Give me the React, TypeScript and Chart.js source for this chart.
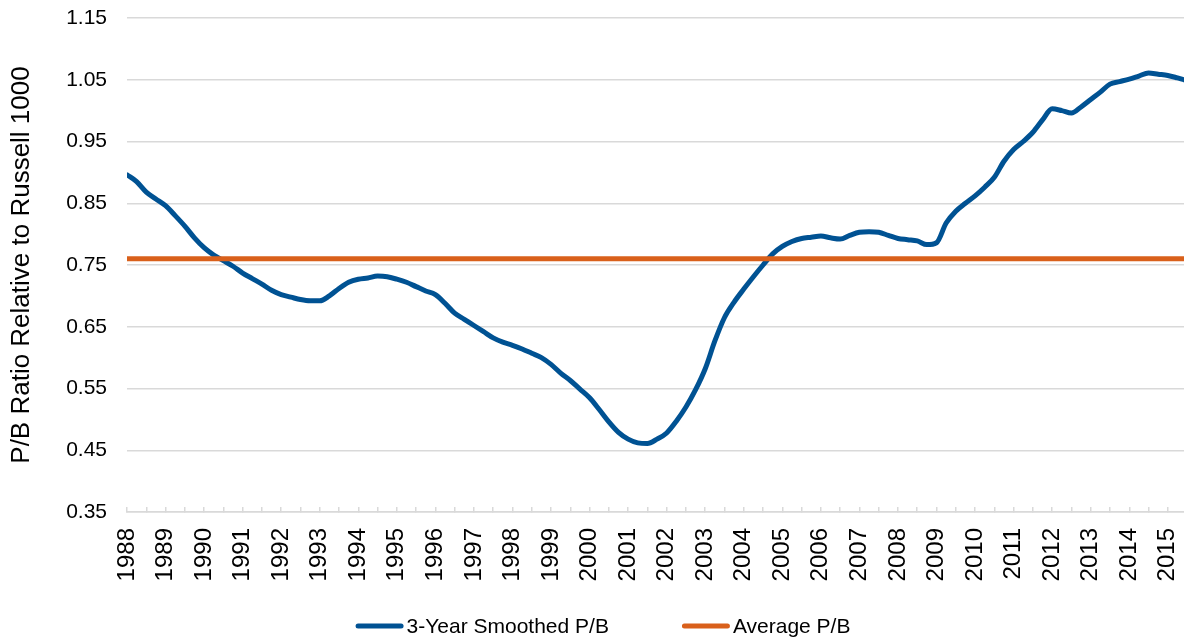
import React, { useEffect, useRef } from "react";
import { Chart, registerables } from "chart.js";

Chart.register(...registerables);

const FONT = '"Liberation Sans", Arial, Helvetica, sans-serif';

const START_YEAR = 1988;
const END_YEAR = 2015.42;

const yearLabels = [
  "1988", "1989", "1990", "1991", "1992", "1993", "1994", "1995", "1996", "1997",
  "1998", "1999", "2000", "2001", "2002", "2003", "2004", "2005", "2006", "2007",
  "2008", "2009", "2010", "2011", "2012", "2013", "2014", "2015",
];

// 3-year smoothed P/B relative to Russell 1000, quarterly readings
const pbValues = [
  0.896, 0.885, 0.868, 0.857, // 1988
  0.846, 0.830, 0.813, 0.794, // 1989
  0.778, 0.766, 0.757, 0.748, // 1990
  0.737, 0.728, 0.719, 0.709, // 1991
  0.702, 0.698, 0.694, 0.692, // 1992
  0.692, 0.700, 0.712, 0.722, // 1993
  0.727, 0.729, 0.732, 0.731, // 1994
  0.727, 0.722, 0.715, 0.708, // 1995
  0.702, 0.688, 0.672, 0.662, // 1996
  0.652, 0.642, 0.632, 0.625, // 1997
  0.620, 0.614, 0.607, 0.600, // 1998
  0.589, 0.575, 0.563, 0.549, // 1999
  0.535, 0.516, 0.496, 0.479, // 2000
  0.468, 0.462, 0.461, 0.468, // 2001
  0.478, 0.497, 0.520, 0.548, // 2002
  0.582, 0.627, 0.665, 0.690, // 2003
  0.711, 0.731, 0.750, 0.768, // 2004
  0.780, 0.788, 0.793, 0.795, // 2005
  0.797, 0.794, 0.792, 0.798, // 2006
  0.803, 0.804, 0.803, 0.798, // 2007
  0.793, 0.791, 0.789, 0.783, // 2008
  0.786, 0.818, 0.837, 0.850, // 2009
  0.862, 0.876, 0.892, 0.918, // 2010
  0.937, 0.950, 0.965, 0.985, // 2011
  1.003, 1.000, 0.996, 1.006, // 2012
  1.018, 1.030, 1.043, 1.047, // 2013
  1.051, 1.056, 1.061, 1.059, // 2014
  1.057, 1.053, 1.050,        // 2015
];
const pbDates = pbValues.map((_, i) => Math.min(START_YEAR + i * 0.25, END_YEAR));

const averagePB = [0.76, 0.76];
const averageDates = [START_YEAR, END_YEAR];

const Y_MIN = 0.35;
const Y_MAX = 1.15;
const Y_STEP = 0.1;

const seriesNames = ["3-Year Smoothed P/B", "Average P/B"];
const seriesColors = ["#005293", "#D9601B"];

const bottomLegend = {
  id: "bottomLegend",
  afterDraw(chart: any) {
    const ctx = chart.ctx as CanvasRenderingContext2D;
    const items = chart.data.datasets.map((ds: any) => ({ text: ds.label, color: ds.borderColor }));
    ctx.save();
    ctx.font = `21px ${FONT}`;
    const sample = 48;
    const gap = 3;
    const between = 73;
    const widths = items.map((it: any) => sample + gap + ctx.measureText(it.text).width);
    const total = widths.reduce((a: number, b: number) => a + b, 0) + between * (items.length - 1);
    let x = chart.width / 2 + 11 - total / 2;
    const y = chart.height - 13;
    items.forEach((it: any, i: number) => {
      ctx.strokeStyle = it.color;
      ctx.lineWidth = 5;
      ctx.lineCap = "round";
      ctx.beginPath();
      ctx.moveTo(x + 2.5, y);
      ctx.lineTo(x + sample - 2.5, y);
      ctx.stroke();
      ctx.fillStyle = "#000";
      ctx.textAlign = "left";
      ctx.textBaseline = "middle";
      ctx.fillText(it.text, x + sample + gap, y + 1);
      x += widths[i] + between;
    });
    ctx.restore();
  },
};

export default function App() {
  const canvasRef = useRef<HTMLCanvasElement | null>(null);

  useEffect(() => {
    if (!canvasRef.current) return;
    const chart = new Chart(canvasRef.current, {
      type: "line",
      data: {
        datasets: [
          {
            label: seriesNames[0],
            data: pbDates.map((d, i) => ({ x: d, y: pbValues[i] })),
            borderColor: seriesColors[0],
            backgroundColor: seriesColors[0],
            borderWidth: 5,
            pointRadius: 0,
            cubicInterpolationMode: "monotone",
            borderCapStyle: "round",
            borderJoinStyle: "round",
            order: 1,
          },
          {
            label: seriesNames[1],
            data: averageDates.map((d, i) => ({ x: d, y: averagePB[i] })),
            borderColor: seriesColors[1],
            backgroundColor: seriesColors[1],
            borderWidth: 5,
            pointRadius: 0,
            order: 0,
          },
        ],
      },
      options: {
        animation: false,
        responsive: false,
        layout: { padding: { top: 18, left: 0, right: 0, bottom: 0 } },
        plugins: {
          legend: { display: false },
          tooltip: { enabled: false },
        },
        scales: {
          x: {
            type: "linear",
            min: START_YEAR,
            max: END_YEAR,
            afterFit: (scale: any) => {
              scale.height = 127;
              scale.paddingLeft = 0;
              scale.paddingRight = 0;
            },
            grid: {
              drawOnChartArea: false,
              drawTicks: true,
              tickLength: -5,
              color: "#d9d9d9",
              lineWidth: 1.5,
            },
            border: { display: true, color: "#d9d9d9", width: 1.5 },
            ticks: {
              stepSize: 0.5,
              autoSkip: false,
              includeBounds: false,
              minRotation: 90,
              maxRotation: 90,
              padding: 21,
              color: "#000",
              font: { family: FONT, size: 24 },
              callback: (v: any) => {
                const n = Number(v);
                const r = Math.round(n);
                if (Math.abs(n - r) > 1e-6) return "";
                const s = String(r);
                return yearLabels.includes(s) ? s : "";
              },
            },
          },
          y: {
            type: "linear",
            min: Y_MIN,
            max: Y_MAX,
            afterFit: (scale: any) => {
              scale.width = 127;
              scale.paddingTop = 0;
              scale.paddingBottom = 0;
            },
            grid: { drawTicks: false, color: "#d9d9d9", lineWidth: 1.5 },
            border: { display: false },
            ticks: {
              stepSize: Y_STEP,
              padding: 20,
              color: "#000",
              font: { family: FONT, size: 21 },
              callback: (v: any) => Number(v).toFixed(2),
            },
            title: {
              display: true,
              text: "P/B Ratio Relative to Russell 1000",
              color: "#000",
              font: { family: FONT, size: 26, lineHeight: 1.2 },
              padding: { top: 6, bottom: 0 },
            },
          },
        },
      },
      plugins: [bottomLegend],
    });
    return () => chart.destroy();
  }, []);

  return (
    <div style={{ position: "fixed", left: 0, top: 0, width: 1184, height: 639, background: "#fff" }}>
      <canvas ref={canvasRef} width={1184} height={639} style={{ display: "block" }} />
    </div>
  );
}
